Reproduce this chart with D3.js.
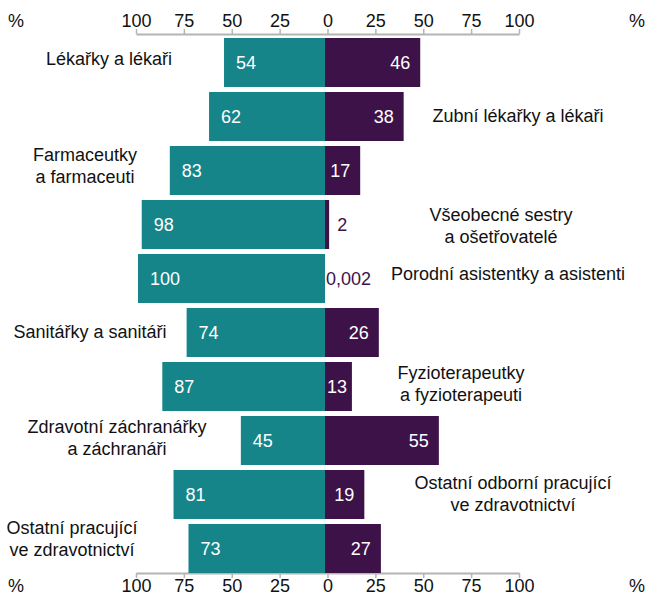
<!DOCTYPE html>
<html>
<head>
<meta charset="utf-8">
<script src="https://cdn.jsdelivr.net/npm/d3@7"></script>
<style>
  body { margin: 0; background: #fff; }
  svg { display: block; font-family: "Liberation Sans", Arial, Helvetica, sans-serif; }
</style>
</head>
<body>
<div class="chart"></div>
<script>
// professions (multi-line labels)
const categories = [
  ["Lékařky a lékaři"],
  ["Zubní lékařky a lékaři"],
  ["Farmaceutky", "a farmaceuti"],
  ["Všeobecné sestry", "a ošetřovatelé"],
  ["Porodní asistentky a asistenti"],
  ["Sanitářky a sanitáři"],
  ["Fyzioterapeutky", "a fyzioterapeuti"],
  ["Zdravotní záchranářky", "a záchranáři"],
  ["Ostatní odborní pracující", "ve zdravotnictví"],
  ["Ostatní pracující", "ve zdravotnictví"]
];

// share of women / men in %
const women = [54, 62, 83, 98, 100, 74, 87, 45, 81, 73];
const men = [46, 38, 17, 2, 0.002, 26, 13, 55, 19, 27];

// axis ticks
const tickValues = [-100, -75, -50, -25, 0, 25, 50, 75, 100];

// where each category label sits (side, centre x, vertical nudge)
const labelLayout = [
  { side: "left", cx: 109, dy: -4 },
  { side: "right", cx: 518, dy: -1 },
  { side: "left", cx: 85, dy: -4.5 },
  { side: "right", cx: 501, dy: 1 },
  { side: "right", cx: 508, dy: -5 },
  { side: "left", cx: 90, dy: -1 },
  { side: "right", cx: 461, dy: -3 },
  { side: "left", cx: 117, dy: -2.5 },
  { side: "right", cx: 513, dy: -1 },
  { side: "left", cx: 72, dy: -10 }
];

const width = 645, height = 597;
const teal = "#15858a", purple = "#3d1249", axisGrey = "#b4b4b4";
const fontSize = 18, lineH = 22;

const svg = d3.select(".chart").append("svg")
  .attr("width", width)
  .attr("height", height);

// scales
const y = d3.scaleBand()
  .domain(d3.range(categories.length))
  .range([38, 573])
  .paddingInner(5 / 54);

const xLeft = d3.scaleLinear().domain([0, 100]).range([325, 138]);
const xRight = d3.scaleLinear().domain([0, 100]).range([325, 532]);
const xAxisScale = d3.scaleLinear().domain([-100, 100]).range([136, 519]);

// axes
function styleAxis(g) {
  g.select(".domain").attr("stroke", axisGrey).attr("stroke-width", 2);
  g.selectAll(".tick line").attr("stroke", axisGrey).attr("stroke-width", 1.5);
  g.selectAll(".tick text")
    .attr("fill", "#111")
    .style("font-size", fontSize + "px");
}

const topAxis = d3.axisTop(xAxisScale)
  .tickValues(tickValues)
  .tickFormat(d => Math.abs(d))
  .tickSizeInner(5)
  .tickSizeOuter(0)
  .tickPadding(2);

svg.append("g")
  .attr("transform", "translate(0,34)")
  .call(topAxis)
  .call(styleAxis);

const bottomAxis = d3.axisBottom(xAxisScale)
  .tickValues(tickValues)
  .tickFormat(d => Math.abs(d))
  .tickSizeInner(5)
  .tickSizeOuter(0)
  .tickPadding(1);

svg.append("g")
  .attr("transform", "translate(0,573)")
  .call(bottomAxis)
  .call(styleAxis);

// % signs at the axis ends
[27, 592].forEach(ty => {
  svg.append("text").attr("x", 16).attr("y", ty).attr("text-anchor", "middle")
    .style("font-size", fontSize + "px").attr("fill", "#111").text("%");
  svg.append("text").attr("x", 637).attr("y", ty).attr("text-anchor", "middle")
    .style("font-size", fontSize + "px").attr("fill", "#111").text("%");
});

const rows = categories.map((c, i) => ({ i, lines: c, w: women[i], m: men[i] }));

// women bars
svg.selectAll(".bar-w")
  .data(rows)
  .enter()
  .append("rect")
  .attr("class", "bar-w")
  .attr("x", d => xLeft(d.w))
  .attr("y", d => y(d.i))
  .attr("width", d => xLeft(0) - xLeft(d.w))
  .attr("height", y.bandwidth())
  .attr("fill", teal);

// men bars
svg.selectAll(".bar-m")
  .data(rows)
  .enter()
  .append("rect")
  .attr("class", "bar-m")
  .attr("x", xRight(0))
  .attr("y", d => y(d.i))
  .attr("width", d => xRight(d.m) - xRight(0))
  .attr("height", y.bandwidth())
  .attr("fill", purple);

const capMid = fontSize * 0.716 / 2;
const fmt = v => String(v).replace(".", ",");

// women values
svg.selectAll(".val-w")
  .data(rows)
  .enter()
  .append("text")
  .attr("class", "val-w")
  .attr("x", d => xLeft(d.w) + 12)
  .attr("y", d => y(d.i) + y.bandwidth() / 2 + capMid)
  .attr("fill", "#fff")
  .style("font-size", fontSize + "px")
  .text(d => fmt(d.w));

// men values: inside when the bar is wide enough, else outside in purple
svg.selectAll(".val-m")
  .data(rows)
  .enter()
  .append("text")
  .attr("class", "val-m")
  .attr("x", d => {
    if (d.m < 5) return xRight(d.m) + (d.m >= 1 ? 8 : 1);
    return Math.max(xRight(0) + 12, xRight(d.m) - 20);
  })
  .attr("text-anchor", d => d.m < 5 ? "start" : "middle")
  .attr("y", d => y(d.i) + y.bandwidth() / 2 + capMid)
  .attr("fill", d => d.m < 5 ? purple : "#fff")
  .style("font-size", fontSize + "px")
  .text(d => fmt(d.m));

// category labels
const labels = svg.selectAll(".cat")
  .data(rows)
  .enter()
  .append("text")
  .attr("class", "cat")
  .attr("text-anchor", "middle")
  .attr("fill", "#111")
  .style("font-size", fontSize + "px");

labels.each(function(d) {
  const lay = labelLayout[d.i];
  const mid = y(d.i) + y.bandwidth() / 2 + lay.dy;
  const first = mid - (d.lines.length - 1) * lineH / 2 + capMid;
  d3.select(this).selectAll("tspan")
    .data(d.lines)
    .enter()
    .append("tspan")
    .attr("x", lay.cx)
    .attr("y", (t, k) => first + k * lineH)
    .text(t => t);
});
</script>
</body>
</html>
